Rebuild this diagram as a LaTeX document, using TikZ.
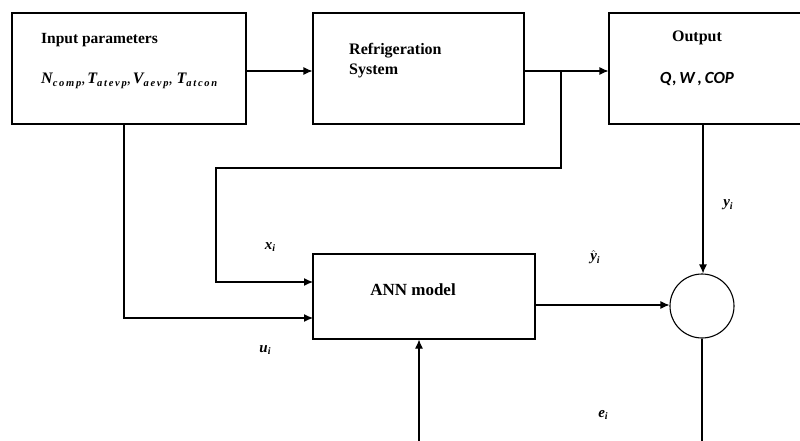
\documentclass[tikz,border=0pt]{standalone}
\usepackage{fontspec}
\setmainfont{Liberation Serif}
\newfontfamily\carlitofont{Carlito}
\usetikzlibrary{arrows.meta}
\newcommand{\mv}[2]{{\bfseries\itshape #1}\raisebox{-0.35ex}{\fontsize{10.5}{11}\selectfont\bfseries\itshape #2}}
\newcommand{\sub}[1]{\raisebox{-0.4ex}{\fontsize{10}{11}\selectfont #1}}
\begin{document}
\begin{tikzpicture}[x=1pt,y=-1pt,
  blk/.style={draw, line width=1.1pt, inner sep=0pt},
  conn/.style={line width=1.1pt},
  arr/.style={conn, -{Latex[length=9pt,width=8pt]}},
  lbl/.style={font=\fontsize{16}{18}\selectfont\bfseries, inner sep=0pt},
  mlbl/.style={font=\fontsize{15}{16}\selectfont\bfseries\itshape, inner sep=0pt}]
\useasboundingbox (0,0) rectangle (800,441);
% blocks
\node[blk, minimum width=234pt, minimum height=111pt] (inp) at (129,68.5) {};
\node[blk, minimum width=211pt, minimum height=111pt] (ref) at (418.5,68.5) {};
\node[blk, minimum width=200pt, minimum height=111pt] (out) at (709,68.5) {};
\node[blk, minimum width=222pt, minimum height=85pt] (ann) at (424,296.5) {};
\node[draw, circle, line width=1.1pt, minimum size=64pt, inner sep=0pt] (sum) at (702,306) {};
% texts
\node[lbl, anchor=west, font=\fontsize{15.5}{18}\selectfont\bfseries] (t1) at (41,40) {Input parameters};
\node[anchor=west, inner sep=0pt, font=\fontsize{16}{16}\selectfont] (t2) at (41,81)
  {\mv{N}{c\,o\,m\,p},\hspace{2pt}\mv{T}{a\,t\,e\,v\,p},\hspace{2pt}\mv{V}{a\,e\,v\,p},\hspace{4pt}\mv{T}{a\,t\,c\,o\,n}};
\node[lbl, anchor=west, align=left] (t3) at (349,61) {Refrigeration\\[2pt]System};
\node[lbl] (t4) at (697,38) {Output};
\node[inner sep=0pt, font=\carlitofont\fontsize{17}{18}\selectfont\bfseries\itshape] (t5) at (697,79) {Q,\,W\,,\,COP};
\node[lbl, font=\fontsize{17}{18}\selectfont\bfseries] (t6) at (413,290) {ANN model};
% coordinates
\coordinate (br) at (561,71);
\coordinate (fb1) at (561,168);
\coordinate (fb2) at (216,168);
\coordinate (xin) at (313,282);
\coordinate (ud) at (124,124);
\coordinate (uin) at (313,318);
\coordinate (bot) at (419,441);
\coordinate (obot) at (703,124);
\coordinate (ebot) at (702,441);
% connectors
\draw[arr] (inp.east |- 0,71) -- (ref.west |- 0,71);
\draw[arr] (ref.east |- br) -- (out.west |- br);
\draw[arr] (br) -- (fb1) -- (fb2) |- (xin);
\draw[arr] (ud) |- (uin);
\draw[arr] (bot) -- (ann.south -| bot);
\draw[arr] (ann.east |- 0,305) -- (sum.west |- 0,305);
\draw[arr] (obot) -- (sum.north -| obot);
\draw[conn] (sum.south) -- (ebot);
% signal labels
\node[mlbl] (lx) at (270,247) {x\sub{i}};
\node[mlbl] (lu) at (265,350) {u\sub{i}};
\node[mlbl] (ly) at (595,257) {$\hat{\mbox{\bfseries\itshape y}}$\sub{i}};
\node[mlbl] (ly2) at (728,205) {y\sub{i}};
\node[mlbl] (le) at (603,415) {e\sub{i}};
\end{tikzpicture}
\end{document}
